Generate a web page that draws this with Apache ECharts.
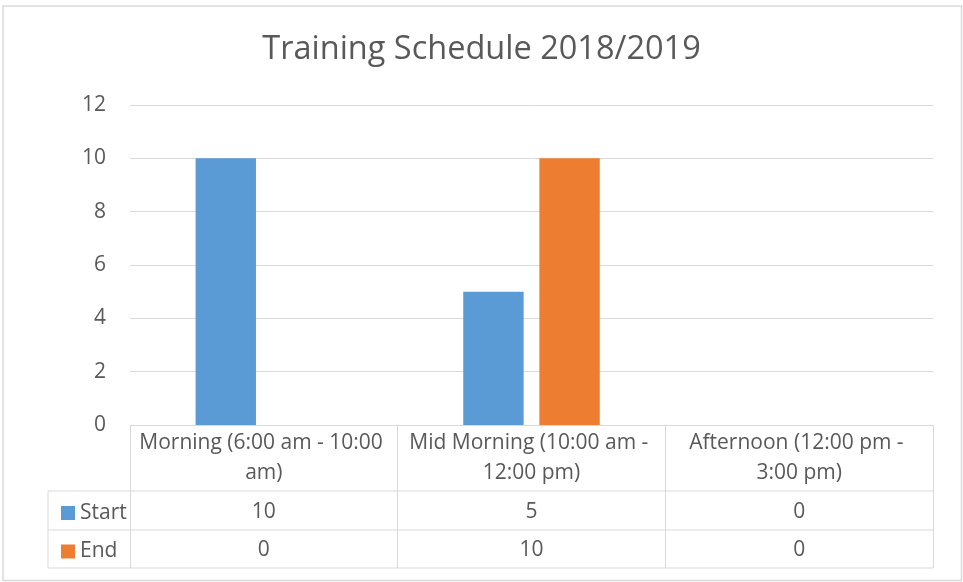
<!DOCTYPE html>
<html lang="en">
<head>
    <meta charset="UTF-8">
    <title>Training Schedule 2018/2019</title>
    <script src="https://cdn.jsdelivr.net/npm/echarts@6/dist/echarts.min.js"></script>
    <style>
        html, body { margin: 0; padding: 0; background: #fff; }
        #box1 { width: 963px; height: 582px; }
    </style>
</head>
<body>
<div id="box1"></div>
<script>
    var categories = ['Morning (6:00 am - 10:00 am)', 'Mid Morning (10:00 am - 12:00 pm)', 'Afternoon (12:00 pm - 3:00 pm)'];
    var startVals = [10, 5, 0];
    var endVals = [0, 10, 0];
    var yTicks = { min: 0, max: 12, interval: 2 };

    var txt = '#595959';
    var line = '#d9d9d9';
    var font = 'Open Sans';

    var mychart = echarts.init(document.getElementById('box1'));

    function hline(x1, x2, y) {
        return { type: 'line', silent: true, shape: { x1: x1, y1: y, x2: x2, y2: y }, style: { stroke: line, lineWidth: 1 } };
    }

    var option = {
        animation: false,
        backgroundColor: '#fff',
        textStyle: { fontFamily: font },
        title: {
            text: 'Training Schedule 2018/2019',
            left: 'center',
            top: 33,
            padding: 0,
            textStyle: { color: txt, fontSize: 32.5, fontWeight: 'normal', fontFamily: font }
        },
        legend: {
            orient: 'vertical',
            left: 56,
            top: 496,
            itemWidth: 14,
            itemHeight: 14,
            itemGap: 14.5,
            icon: 'rect',
            selectedMode: false,
            textStyle: { color: txt, fontSize: 21, lineHeight: 24, fontFamily: font },
            data: ['Start', 'End']
        },
        grid: { left: 130, right: 30, top: 105, bottom: 157 },
        xAxis: [
            {
                type: 'category',
                data: categories,
                position: 'bottom',
                axisLine: { show: true, lineStyle: { color: line, width: 1 } },
                axisTick: { show: true, length: 143, lineStyle: { color: line, width: 1 } },
                axisLabel: {
                    interval: 0, margin: 3, color: txt, fontSize: 21, lineHeight: 30,
                    width: 255, overflow: 'break', align: 'center', fontFamily: font
                }
            },
            {
                type: 'category',
                data: categories,
                position: 'bottom',
                axisLine: { show: false },
                axisTick: { show: false },
                axisLabel: {
                    interval: 0, margin: 72, color: txt, fontSize: 21, lineHeight: 30, fontFamily: font,
                    formatter: function (v, i) { return String(startVals[i]); }
                }
            },
            {
                type: 'category',
                data: categories,
                position: 'bottom',
                axisLine: { show: false },
                axisTick: { show: false },
                axisLabel: {
                    interval: 0, margin: 110.5, color: txt, fontSize: 21, lineHeight: 30, fontFamily: font,
                    formatter: function (v, i) { return String(endVals[i]); }
                }
            }
        ],
        yAxis: {
            type: 'value',
            min: yTicks.min,
            max: yTicks.max,
            interval: yTicks.interval,
            axisLine: { show: false },
            axisTick: { show: false },
            axisLabel: { color: txt, fontSize: 21, margin: 24, fontFamily: font },
            splitLine: { lineStyle: { color: line, width: 1 } }
        },
        series: [
            {
                name: 'Start',
                type: 'bar',
                data: startVals,
                barGap: '26%',
                barCategoryGap: '49%',
                itemStyle: { color: '#5b9bd5' }
            },
            {
                name: 'End',
                type: 'bar',
                data: endVals,
                itemStyle: { color: '#ed7d31' }
            }
        ],
        graphic: [
            {
                type: 'rect', silent: true,
                shape: { x: 3, y: 6, width: 958.5, height: 574.5 },
                style: { fill: null, stroke: line, lineWidth: 1.5 }
            },
            hline(48, 933, 491),
            hline(48, 933, 530),
            hline(48, 933, 568),
            { type: 'line', silent: true, shape: { x1: 48, y1: 491, x2: 48, y2: 568 }, style: { stroke: line, lineWidth: 1 } }
        ]
    };
    mychart.setOption(option);
</script>
</body>
</html>
